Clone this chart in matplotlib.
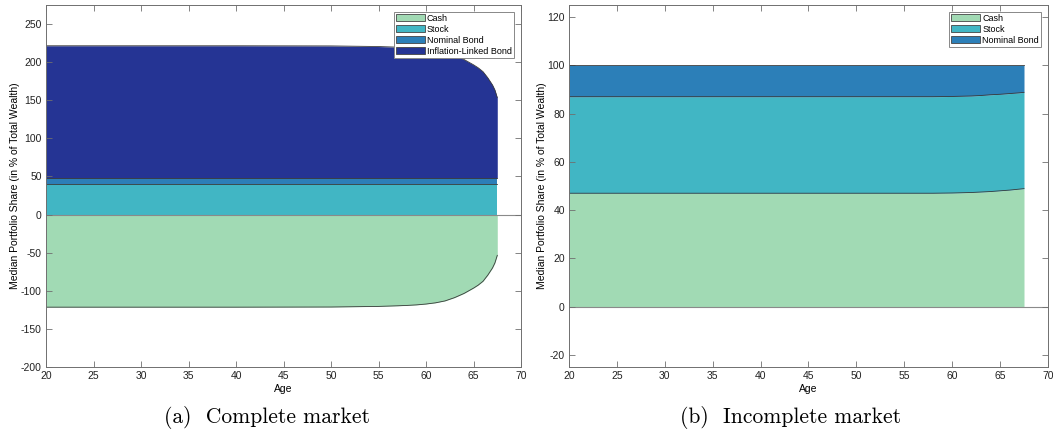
import numpy as np
import matplotlib
matplotlib.use("Agg")
import matplotlib.pyplot as plt
from matplotlib.patches import Patch

plt.rcParams['font.family'] = ['Liberation Sans', 'DejaVu Sans']
plt.rcParams['axes.unicode_minus'] = False

ages = [20, 30, 40, 50, 55, 57, 58, 59, 60, 61, 62, 63, 64, 65, 65.5, 66, 66.5, 67, 67.25, 67.5]

# complete market shares (% of total wealth)
cash_c = [-121.5, -121.5, -121.5, -121.3, -120.5, -119.7, -119.2, -118.5, -117.4, -115.8,
          -113.3, -109.0, -103.5, -96.5, -92.5, -87.5, -79.5, -70.0, -63.5, -53.5]
stock_c = [40.5] * 20
nominal_c = [7.5] * 20
ilb_c = [173.5, 173.5, 173.5, 173.3, 172.5, 171.7, 171.2, 170.5, 169.4, 167.8,
         165.3, 161.0, 155.5, 148.5, 144.5, 139.5, 131.5, 122.0, 115.5, 105.5]

# incomplete market shares
cash_i = [47.0, 47.0, 47.0, 47.0, 47.0, 47.0, 47.0, 47.05, 47.1, 47.2,
          47.3, 47.5, 47.7, 48.0, 48.15, 48.3, 48.5, 48.7, 48.8, 48.9]
stock_i = [40.0, 40.0, 40.0, 40.0, 40.0, 40.0, 40.0, 40.0, 40.0, 40.0,
           40.0, 40.0, 40.1, 40.0, 40.0, 40.0, 39.95, 39.9, 39.9, 39.9]
nominal_i = [13.0, 13.0, 13.0, 13.0, 13.0, 13.0, 13.0, 12.95, 12.9, 12.8,
             12.7, 12.5, 12.2, 12.0, 11.85, 11.7, 11.55, 11.4, 11.3, 11.2]

labels = ["Cash", "Stock", "Nominal Bond", "Inflation-Linked Bond"]
colors = ["#a1dab4", "#41b6c4", "#2c7fb8", "#253494"]
edge = "#3a3a3a"
frame = "#6f6f6f"

fig = plt.figure(figsize=(10.53, 4.34), dpi=100)
axL = fig.add_axes([0.0437, 0.1544, 0.4511, 0.8341])
axR = fig.add_axes([0.5404, 0.1544, 0.4548, 0.8341])


def stacked(ax, x, cash, positives):
    x = np.asarray(x)
    cash = np.asarray(cash)
    # cash sits below zero when negative, the rest stacks upward from zero
    if cash.min() < 0:
        ax.fill_between(x, 0, cash, color=colors[0], lw=0)
        ax.plot(x, cash, color=edge, lw=0.6)
        base = np.zeros_like(x, dtype=float)
        series = positives
        cols = colors[1:]
    else:
        base = np.zeros_like(x, dtype=float)
        series = [cash] + positives
        cols = colors
    for vals, c in zip(series, cols):
        top = base + np.asarray(vals)
        ax.fill_between(x, base, top, color=c, lw=0)
        ax.plot(x, top, color=edge, lw=0.6)
        base = top


stacked(axL, ages, cash_c, [stock_c, nominal_c, ilb_c])
stacked(axR, ages, cash_i, [stock_i, nominal_i])

for ax in (axL, axR):
    ax.axhline(0, color="#8a8a8a", lw=0.8, zorder=1.5)
    ax.set_xlim(20, 70)
    ax.set_xticks(range(20, 71, 5))
    ax.set_xlabel("Age", fontsize=7.5, labelpad=2)
    ax.set_ylabel("Median Portfolio Share (in % of Total Wealth)", fontsize=7.5, labelpad=0.5)
    ax.tick_params(direction="in", length=4, width=0.6, color=frame, labelsize=7.5,
                   top=True, right=True, pad=3, labelcolor="#222222")
    for s in ax.spines.values():
        s.set_color(frame)
        s.set_linewidth(0.7)

axL.set_ylim(-200, 275)
axL.set_yticks(range(-200, 251, 50))
axR.set_ylim(-25, 125)
axR.set_yticks(range(-20, 121, 20))


def legend(ax, n):
    handles = [Patch(facecolor=colors[i], edgecolor="#444444", lw=0.6) for i in range(n)]
    lg = ax.legend(handles, labels[:n], loc="upper right", fontsize=6.5,
                   handlelength=3.2, handleheight=0.85, handletextpad=0.25,
                   labelspacing=0.22, borderpad=0.25, borderaxespad=0.75,
                   fancybox=False, framealpha=1)
    lg.get_frame().set_edgecolor("#888888")
    lg.get_frame().set_linewidth(0.7)


legend(axL, 4)
legend(axR, 3)

fig.text(0.254, 0.037, "(a)  Complete market", ha="center", va="center",
         fontsize=15.5, family="cmr10")
fig.text(0.751, 0.037, "(b)  Incomplete market", ha="center", va="center",
         fontsize=15.5, family="cmr10")

fig.savefig("out.png", dpi=100)
